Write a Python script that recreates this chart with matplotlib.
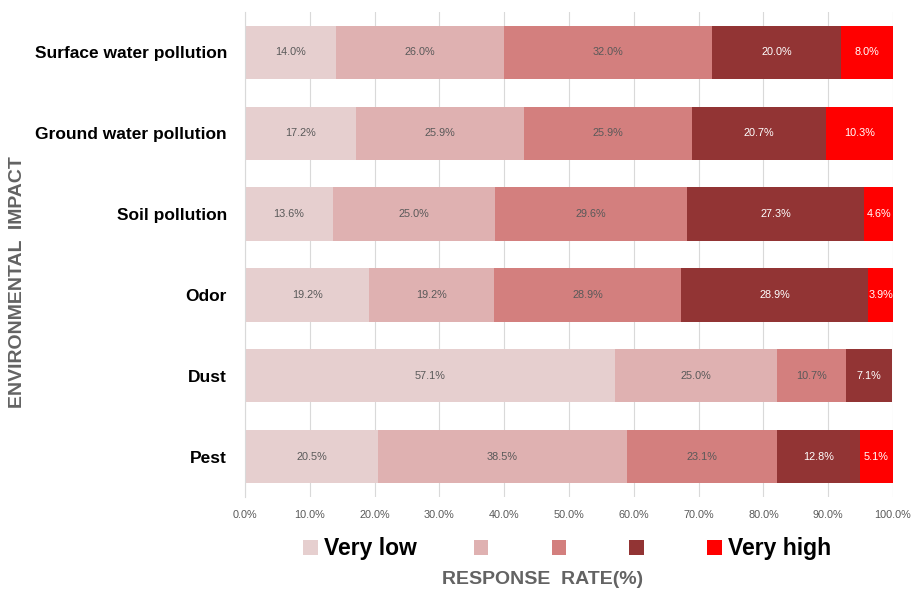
import numpy as np
import matplotlib.pyplot as plt
from matplotlib.patches import Patch

plt.rcParams['font.family'] = ['Liberation Sans', 'DejaVu Sans']

# response shares (%) per impact, very low -> very high
categories = ["Surface water pollution", "Ground water pollution", "Soil pollution",
              "Odor", "Dust", "Pest"]
very_low = np.array([14.0, 17.2, 13.6, 19.2, 57.1, 20.5])
low = np.array([26.0, 25.9, 25.0, 19.2, 25.0, 38.5])
medium = np.array([32.0, 25.9, 29.6, 28.9, 10.7, 23.1])
high = np.array([20.0, 20.7, 27.3, 28.9, 7.1, 12.8])
very_high = np.array([8.0, 10.3, 4.6, 3.9, 0.0, 5.1])

levels = ["Very low", "", "", "", "Very high"]
colors = ["#E6CFCF", "#DFB1B1", "#D37F7E", "#923434", "#FF0000"]
text_colors = ["#595959", "#595959", "#595959", "white", "white"]

fig = plt.figure(figsize=(9.11, 5.92), dpi=100)
ax = fig.add_axes([245/911, 1-497/592, 648/911, 485/592])

y = np.arange(len(categories))
left = np.zeros(len(categories))
series = [very_low, low, medium, high, very_high]
for vals, c, tc in zip(series, colors, text_colors):
    ax.barh(y, vals, left=left, height=0.66, color=c, zorder=2)
    for yi, v, l in zip(y, vals, left):
        if v > 0:
            ax.text(l + v/2, yi, f"{v:.1f}%", ha="center", va="center",
                    fontsize=7.8, color=tc, zorder=3)
    left += vals

ax.set_xlim(0, 100)
ax.set_ylim(len(categories) - 0.5, -0.5)
ax.set_xticks(np.arange(0, 101, 10))
ax.set_xticklabels([f"{t:.1f}%" for t in np.arange(0, 101, 10)], fontsize=7.8, color="#595959")
ax.set_yticks(y)
ax.set_yticklabels(categories, fontsize=12.5, fontweight="bold", color="black")
ax.tick_params(axis="both", length=0)
ax.tick_params(axis="y", pad=13)
ax.tick_params(axis="x", pad=9)
ax.grid(axis="x", color="#D9D9D9", linewidth=0.8, zorder=0)
for s in ["top", "right", "bottom"]:
    ax.spines[s].set_visible(False)
ax.spines["left"].set_color("#D9D9D9")

fig.text(18/911, 1-282/592, "ENVIRONMENTAL  IMPACT", rotation=90, ha="center", va="center",
         fontsize=14, fontweight="bold", color="#636363")
fig.text(543/911, 1-580/592, "RESPONSE  RATE(%)", ha="center", va="center",
         fontsize=14, fontweight="bold", color="#636363")

handles = [Patch(facecolor=c, edgecolor="none") for c in colors]
fig.legend(handles, levels, loc="center", bbox_to_anchor=(567/911, 1-549/592), ncol=5,
           frameon=False, prop={"size": 16.5, "weight": "bold"},
           handlelength=0.65, handleheight=0.65, handletextpad=0.25, columnspacing=2.5)

fig.savefig("out.png", dpi=100)
